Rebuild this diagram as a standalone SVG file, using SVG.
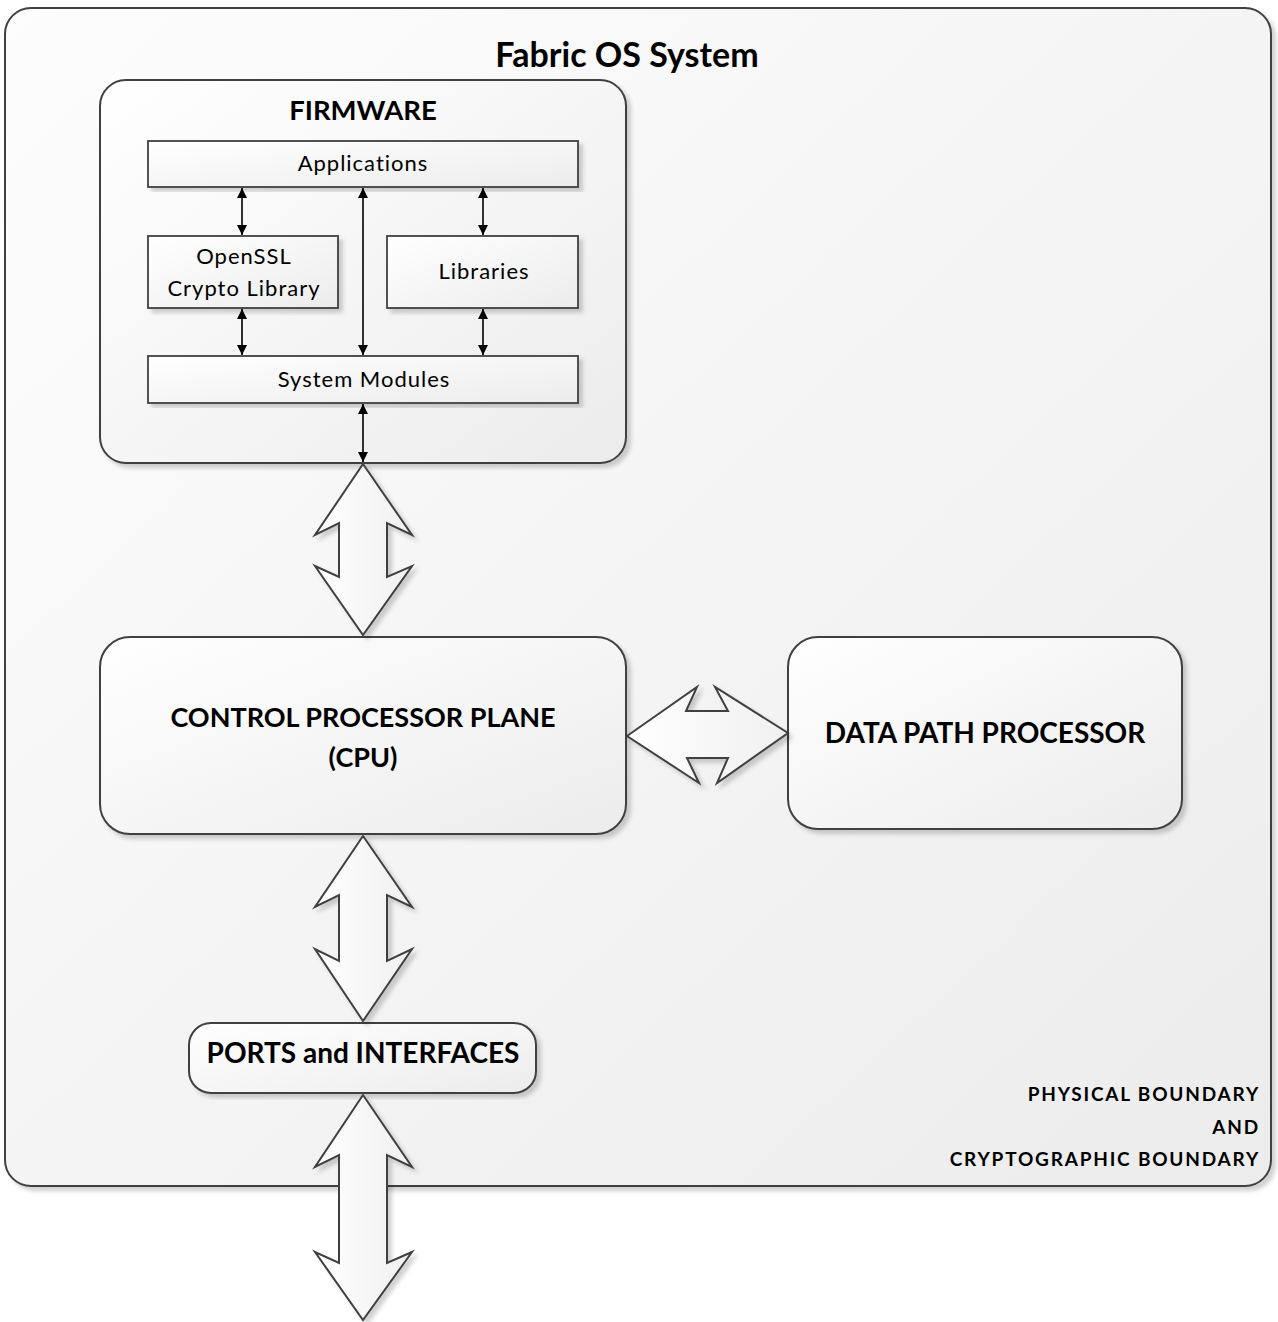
<svg xmlns="http://www.w3.org/2000/svg" width="1278" height="1322" viewBox="0 0 1278 1322">
<style>
.box{stroke:#404040;stroke-width:2;}
.rect{fill:url(#gBox);stroke:#404040;stroke-width:1.8;}
.blk{fill:url(#gArrow);stroke:#404040;stroke-width:2;stroke-linejoin:miter;}
.ln{stroke:#000;stroke-width:1.6;fill:none;marker-start:url(#ah);marker-end:url(#ah);}
text{font-family:Lato,"Open Sans","Liberation Sans",sans-serif;fill:#000;text-anchor:middle;}
.b{font-weight:bold;}
.s{font-size:22px;letter-spacing:1px;}
.r{text-anchor:end;font-weight:bold;font-size:19px;letter-spacing:1.8px;}
</style>
<defs>
<linearGradient id="gOuter" x1="0" y1="0" x2="1" y2="1">
<stop offset="0" stop-color="#fdfdfd"/><stop offset="1" stop-color="#ececec"/>
</linearGradient>
<linearGradient id="gBox" x1="0" y1="0" x2="1" y2="1">
<stop offset="0" stop-color="#ffffff"/><stop offset="1" stop-color="#ececec"/>
</linearGradient>
<linearGradient id="gArrow" x1="0" y1="0" x2="1" y2="0">
<stop offset="0" stop-color="#ffffff"/><stop offset="1" stop-color="#f0f0f0"/>
</linearGradient>
<filter id="sh" x="-10%" y="-10%" width="120%" height="120%">
<feDropShadow dx="4" dy="4" stdDeviation="2" flood-color="#000" flood-opacity="0.18"/>
</filter>
<marker id="ah" viewBox="0 0 10 10" refX="10" refY="5" markerWidth="10" markerHeight="10" markerUnits="userSpaceOnUse" orient="auto-start-reverse">
<path d="M0,0 L10,5 L0,10 Z" fill="#000"/>
</marker>
</defs>

<g id="outer-boundary">
<rect class="box" x="5" y="8" width="1266" height="1178" rx="26" fill="url(#gOuter)" filter="url(#sh)"/>
<text class="b" x="627" y="67" font-size="34">Fabric OS System</text>
<text class="r" x="1260" y="1101">PHYSICAL BOUNDARY</text>
<text class="r" x="1260" y="1134">AND</text>
<text class="r" x="1260" y="1166">CRYPTOGRAPHIC BOUNDARY</text>
</g>

<g id="firmware">
<rect class="box" x="100" y="80" width="526" height="383" rx="26" fill="url(#gBox)" filter="url(#sh)"/>
<text class="b" x="363" y="120" font-size="27.5">FIRMWARE</text>
</g>

<g id="applications">
<rect class="rect" x="148" y="141" width="430" height="46" filter="url(#sh)"/>
<text class="s" x="363" y="171">Applications</text>
</g>

<g id="openssl">
<rect class="rect" x="148" y="236" width="190" height="72" filter="url(#sh)"/>
<text class="s" x="244" y="264">OpenSSL</text>
<text class="s" x="244" y="296">Crypto Library</text>
</g>

<g id="libraries">
<rect class="rect" x="387" y="236" width="191" height="72" filter="url(#sh)"/>
<text class="s" x="484" y="279">Libraries</text>
</g>

<g id="system-modules">
<rect class="rect" x="148" y="356" width="430" height="47" filter="url(#sh)"/>
<text class="s" x="364" y="387">System Modules</text>
</g>

<g id="cpu">
<rect class="box" x="100" y="637" width="526" height="197" rx="30" fill="url(#gBox)" filter="url(#sh)"/>
<text class="b" x="363" y="727" font-size="27">CONTROL PROCESSOR PLANE</text>
<text class="b" x="363" y="767" font-size="27">(CPU)</text>
</g>

<g id="data-path">
<rect class="box" x="788" y="637" width="394" height="192" rx="30" fill="url(#gBox)" filter="url(#sh)"/>
<text class="b" x="985" y="743" font-size="28">DATA PATH PROCESSOR</text>
</g>

<g id="ports">
<rect class="box" x="189" y="1023" width="347" height="70" rx="22" fill="url(#gBox)" filter="url(#sh)"/>
<text class="b" x="363" y="1063" font-size="28">PORTS and INTERFACES</text>
</g>

<g id="connectors">
<line class="ln" x1="242" y1="188" x2="242" y2="235"/>
<line class="ln" x1="242" y1="309" x2="242" y2="355"/>
<line class="ln" x1="363" y1="188" x2="363" y2="355"/>
<line class="ln" x1="483" y1="188" x2="483" y2="235"/>
<line class="ln" x1="483" y1="309" x2="483" y2="355"/>
<line class="ln" x1="363" y1="404" x2="363" y2="462"/>
<path class="blk" filter="url(#sh)" d="M363,464 L412,535 L387,523 L387,577 L412,566 L363,635 L315,566 L339,577 L339,523 L315,535 Z"/>
<path class="blk" filter="url(#sh)" d="M627,736 L697,687 L686,711 L728,711 L715,687 L788,733 L717,783 L728,758 L687,758 L699,783 Z"/>
<path class="blk" filter="url(#sh)" d="M363,836 L412,907 L387,895 L387,961 L412,949 L363,1021 L315,949 L339,961 L339,895 L315,907 Z"/>
<path class="blk" filter="url(#sh)" d="M363,1095 L412,1167 L387,1155 L387,1263 L412,1252 L363,1320 L315,1252 L339,1263 L339,1155 L315,1167 Z"/>
</g>
</svg>
